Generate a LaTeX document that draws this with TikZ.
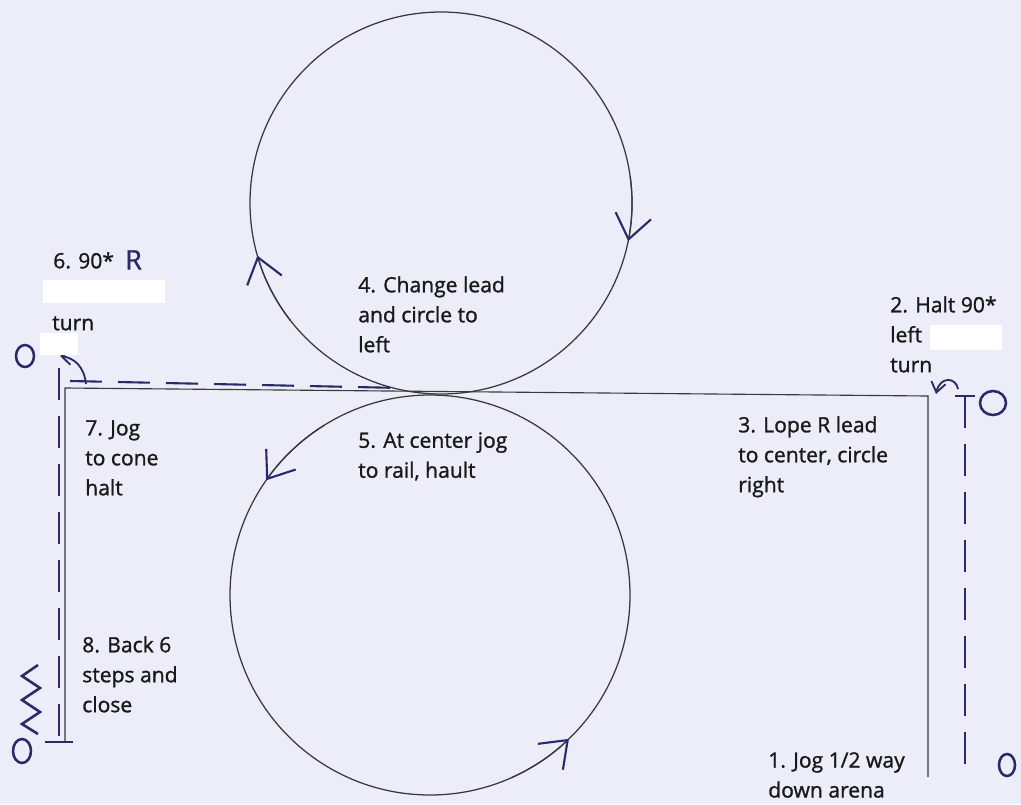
\documentclass[tikz,border=0pt]{standalone}
\usepackage{fontspec}
\setmainfont{Open Sans}
\newfontfamily\notefont{Open Sans}[FakeBold=1.2]
\usetikzlibrary{arrows.meta}
\definecolor{paper}{HTML}{ECEDF8}
\definecolor{ink}{HTML}{2A2A66}
\definecolor{printline}{HTML}{3A3A3A}

\begin{document}
\begin{tikzpicture}[x=0.025cm, y=-0.025cm,
    note/.style={anchor=north west, inner sep=0pt, align=left, text=black!90, font=\notefont\fontsize{15}{21.3}\selectfont},
    printed/.style={printline, line width=0.8pt},
    ring/.style={printline, line width=0.9pt},
    trail/.style={ink, line width=1.5pt, dash pattern=on 0.8cm off 0.4cm},
    cone/.style={ink, line width=1.8pt},
    lapdir/.style={ring, -{Straight Barb[length=0.6cm, width=0.9cm, color=ink, line width=1.5pt]}},
    turnarrow/.style={ink, line width=1.3pt, -{Straight Barb[length=0.25cm, width=0.36cm]}},
    blank/.style={fill=white, draw=none}]
    \fill[paper] (0,0) rectangle (1021,804);
    \useasboundingbox (0,0) rectangle (1021,804);

    \coordinate (upc) at (441,203);
    \coordinate (lowc) at (430,595);
    \coordinate (tl) at (65,388);
    \coordinate (tr) at (928,396);
    \coordinate (bl) at (65,742);
    \coordinate (br) at (928,777);

    \draw[ring] (upc) circle (191);
    \draw[ring] (lowc) circle (200);
    \draw[printed] (bl) -- (tl) -- (tr) -- (br);

    \draw[lapdir] ([shift={(-8:191)}]upc) arc[start angle=-8, end angle=11.5, radius=191];
    \draw[lapdir] ([shift={(142:191)}]upc) arc[start angle=142, end angle=164, radius=191];
    \draw[lapdir] ([shift={(238:200)}]lowc) arc[start angle=238, end angle=215, radius=200];
    \draw[lapdir] ([shift={(66:200)}]lowc) arc[start angle=66, end angle=46, radius=200];

    \coordinate (rtop) at (965,396);
    \coordinate (rbot) at (965,777);
    \draw[trail] (rtop) -- (rbot);
    \draw[cone] (955,396) -- (975,396);
    \draw[turnarrow] (958,389) .. controls (956,377) and (940,376) .. (936,394);

    \coordinate (ltop) at (59,368);
    \coordinate (lbot) at (59,742);
    \draw[trail] (ltop) -- (lbot);
    \draw[cone] (45,742) -- (73,742);
    \draw[trail] (70,381) -- (402,388);
    \draw[turnarrow] (86,384) .. controls (84,366) and (74,358) .. (60,356);

    \draw[cone] (38,665) -- (22,676) -- (40,688) -- (22,700) -- (40,712) -- (22,724) -- (38,734);

    \draw[cone] (25,356) ellipse [x radius=9, y radius=11];
    \draw[cone] (993,403) ellipse [x radius=13, y radius=12];
    \draw[cone] (1007,765) ellipse [x radius=8, y radius=11];
    \draw[cone] (22,751) ellipse [x radius=9, y radius=12];

    \fill[blank] (43,280) rectangle (165,303);
    \fill[blank] (40,333) rectangle (78,355);
    \fill[blank] (930,325) rectangle (1002,350);

    \node[note] (step1) at (768,752) {1. Jog 1/2 way\\down arena};
    \node[note] (step2) at (890,296) {2. Halt 90*\\left\\turn};
    \node[note] (step3) at (738,416) {3. Lope R lead\\to center, circle\\right};
    \node[note] (step4) at (358,276) {4. Change lead\\and circle to\\left};
    \node[note] (step5) at (358,432) {5. At center jog\\to rail, hault};
    \node[note] (step6) at (53,252) {6. 90*};
    \node[note, text=ink, font=\notefont\fontsize{19}{19}\selectfont] (step6r) at (125,250) {R};
    \node[note] (step6b) at (52,316) {turn};
    \node[note] (step7) at (85,420) {7. Jog\\to cone\\halt};
    \node[note] (step8) at (82,636) {8. Back 6\\steps and\\close};
\end{tikzpicture}
\end{document}
